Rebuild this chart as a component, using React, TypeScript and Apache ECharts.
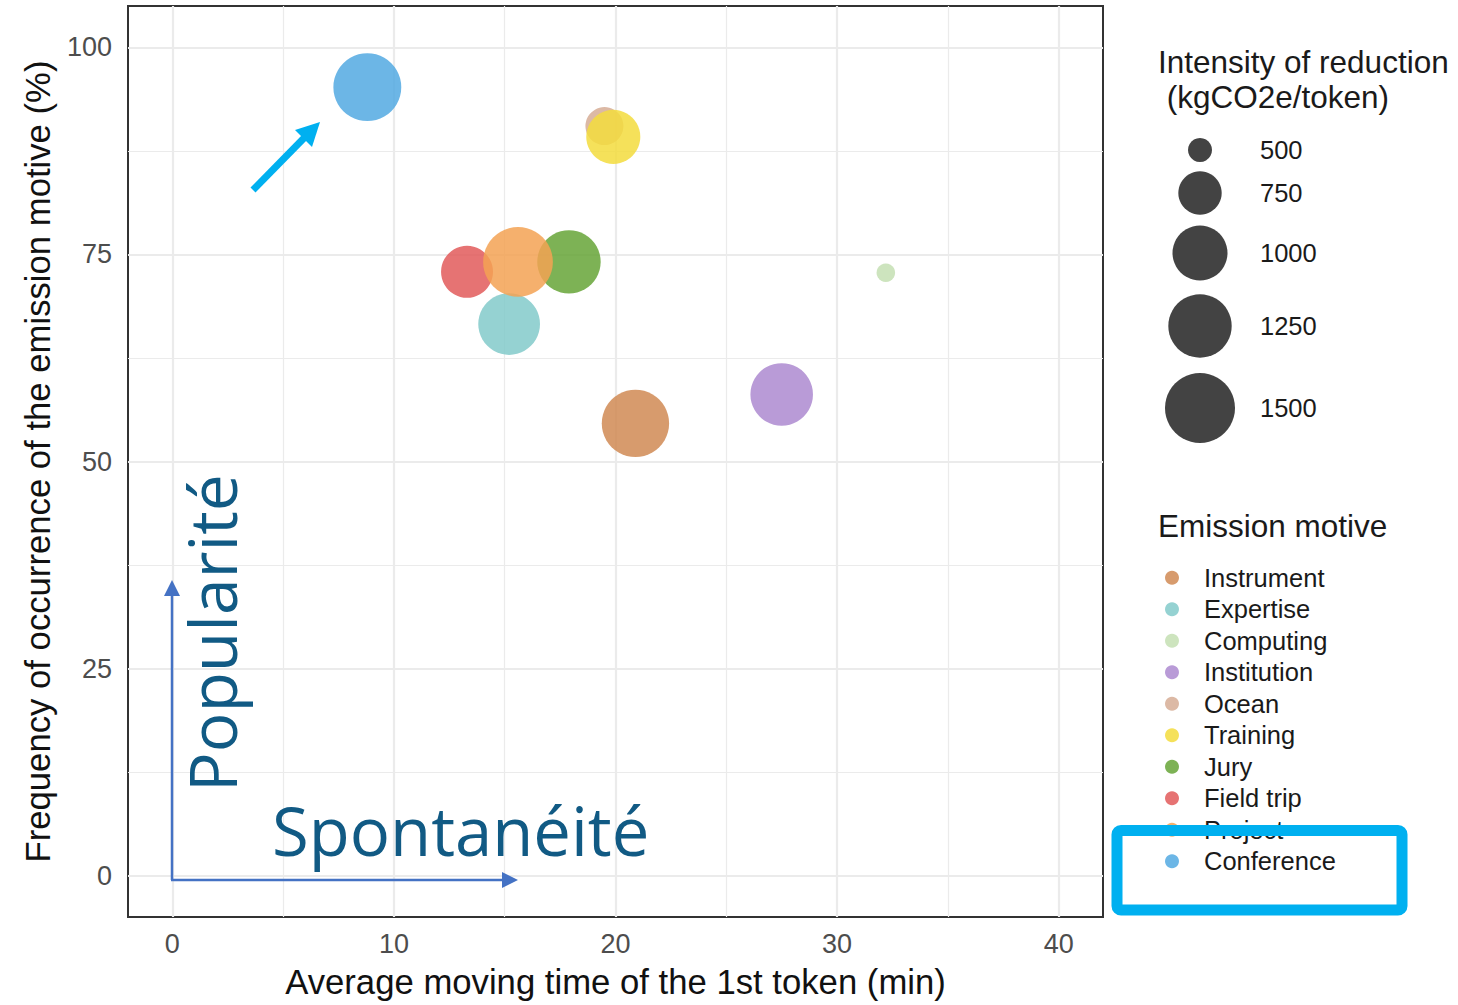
import React, { useEffect, useRef } from "react";
import * as echarts from "echarts";

// ---------- data ----------
const categories = [
  "Instrument",
  "Expertise",
  "Computing",
  "Institution",
  "Ocean",
  "Training",
  "Jury",
  "Field trip",
  "Project",
  "Conference",
];
const movingTime = [20.9, 15.2, 32.2, 27.5, 19.5, 19.9, 17.9, 13.3, 15.6, 8.8];
const frequency = [54.6, 66.6, 72.8, 58.1, 90.5, 89.2, 74.1, 72.9, 74.1, 95.2];
const intensity = [1400, 1200, 430, 1225, 680, 980, 1250, 935, 1490, 1420];

const xTicks = [0, 10, 20, 30, 40];
const xMinor = [5, 15, 25, 35];
const yTicks = [0, 25, 50, 75, 100];
const yMinor = [12.5, 37.5, 62.5, 87.5];
const sizeBreaks = [500, 750, 1000, 1250, 1500];

// ---------- styles ----------
const colors = [
  "#D08954",
  "#83CACA",
  "#C4DFB3",
  "#AD89D0",
  "#D6AD95",
  "#F3DC3D",
  "#66A437",
  "#E25A5A",
  "#F3A254",
  "#52A9E2",
];
const sizeRadii = [12, 21.7, 27.5, 31.7, 35];
const sizeKeyY = [150, 193, 253, 326, 408];
const FONT = "Liberation Sans";
const ANNOT_FONT = "Open Sans";

function radius(v: number): number {
  const b = sizeBreaks;
  const r = sizeRadii;
  if (v <= b[0]) {
    const slope = (r[1] - r[0]) / (b[1] - b[0]);
    return Math.max(3, r[0] - (b[0] - v) * slope);
  }
  for (let i = 0; i < b.length - 1; i++) {
    if (v <= b[i + 1]) {
      return r[i] + ((v - b[i]) / (b[i + 1] - b[i])) * (r[i + 1] - r[i]);
    }
  }
  const n = b.length - 1;
  const slope = (r[n] - r[n - 1]) / (b[n] - b[n - 1]);
  return r[n] + (v - b[n]) * slope;
}

function buildOption() {
  const gridLines = [
    ...xTicks.map((v) => ({ xAxis: v, lineStyle: { color: "#EBEBEB", width: 2.2, type: "solid" } })),
    ...xMinor.map((v) => ({ xAxis: v, lineStyle: { color: "#EBEBEB", width: 1.2, type: "solid" } })),
    ...yTicks.map((v) => ({ yAxis: v, lineStyle: { color: "#EBEBEB", width: 2.2, type: "solid" } })),
    ...yMinor.map((v) => ({ yAxis: v, lineStyle: { color: "#EBEBEB", width: 1.2, type: "solid" } })),
  ];

  const pointSeries = categories.map((c, i) => ({
    type: "scatter",
    name: c,
    data: [[movingTime[i], frequency[i], intensity[i]]],
    symbol: "circle",
    symbolSize: (val: number[]) => 2 * radius(val[2]),
    itemStyle: { color: colors[i], opacity: 0.85 },
    emphasis: { disabled: true },
    z: 3,
  }));

  const graphics: any[] = [];

  // size legend
  graphics.push({
    type: "text",
    x: 1158,
    y: 62,
    style: { text: "Intensity of reduction", fontSize: 31.5, fontFamily: FONT, fill: "#1a1a1a", align: "left", verticalAlign: "middle" },
  });
  graphics.push({
    type: "text",
    x: 1158,
    y: 97,
    style: { text: " (kgCO2e/token)", fontSize: 31.5, fontFamily: FONT, fill: "#1a1a1a", align: "left", verticalAlign: "middle" },
  });
  sizeBreaks.forEach((b, i) => {
    graphics.push({
      type: "circle",
      shape: { cx: 1200, cy: sizeKeyY[i], r: radius(b) },
      style: { fill: "#333333", opacity: 0.92 },
    });
    graphics.push({
      type: "text",
      x: 1260,
      y: sizeKeyY[i],
      style: { text: String(b), fontSize: 25.5, fontFamily: FONT, fill: "#1a1a1a", align: "left", verticalAlign: "middle" },
    });
  });
  graphics.push({
    type: "text",
    x: 1158,
    y: 526,
    style: { text: "Emission motive", fontSize: 31.5, fontFamily: FONT, fill: "#1a1a1a", align: "left", verticalAlign: "middle" },
  });

  // annotations
  graphics.push({
    type: "line",
    shape: { x1: 172, y1: 880, x2: 172, y2: 594 },
    style: { stroke: "#4472C4", lineWidth: 2.5 },
    z: 50,
  });
  graphics.push({
    type: "polygon",
    shape: { points: [[172, 580], [164, 596], [180, 596]] },
    style: { fill: "#4472C4" },
    z: 50,
  });
  graphics.push({
    type: "line",
    shape: { x1: 171, y1: 880, x2: 504, y2: 880 },
    style: { stroke: "#4472C4", lineWidth: 2.5 },
    z: 50,
  });
  graphics.push({
    type: "polygon",
    shape: { points: [[518, 880], [502, 872], [502, 888]] },
    style: { fill: "#4472C4" },
    z: 50,
  });
  graphics.push({
    type: "text",
    x: 211,
    y: 792,
    rotation: Math.PI / 2,
    style: { text: "Popularité", fontSize: 66, fontFamily: ANNOT_FONT, fill: "#115A84", align: "left", verticalAlign: "middle" },
    z: 50,
  });
  graphics.push({
    type: "text",
    x: 272,
    y: 830,
    style: { text: "Spontanéité", fontSize: 67, fontFamily: ANNOT_FONT, fill: "#115A84", align: "left", verticalAlign: "middle" },
    z: 50,
  });
  graphics.push({
    type: "line",
    shape: { x1: 253, y1: 190, x2: 306, y2: 136 },
    style: { stroke: "#00B0F0", lineWidth: 7 },
    z: 50,
  });
  graphics.push({
    type: "polygon",
    shape: { points: [[320, 122], [295, 130], [312, 147]] },
    style: { fill: "#00B0F0" },
    z: 50,
  });
  graphics.push({
    type: "rect",
    shape: { x: 1117, y: 830.5, width: 285, height: 79.5, r: 4 },
    style: { fill: "none", stroke: "#00B0F0", lineWidth: 11 },
    z: 100,
  });

  return {
    animation: false,
    backgroundColor: "#ffffff",
    grid: {
      left: 128,
      top: 6,
      width: 975,
      height: 911,
      show: true,
      borderColor: "#333333",
      borderWidth: 2,
      backgroundColor: "transparent",
    },
    xAxis: {
      type: "value",
      min: -2,
      max: 42,
      name: "Average moving time of the 1st token (min)",
      nameLocation: "middle",
      nameGap: 47,
      nameTextStyle: { fontSize: 34.7, color: "#111", fontFamily: FONT },
      axisLine: { show: false },
      axisTick: { show: true, customValues: xTicks, length: 7, lineStyle: { color: "#333", width: 2 } },
      axisLabel: { customValues: xTicks, margin: 13, fontSize: 27, color: "#4D4D4D", fontFamily: FONT },
      splitLine: { show: false },
    },
    yAxis: {
      type: "value",
      min: -5,
      max: 105,
      name: "Frequency of occurrence of the emission motive (%)",
      nameLocation: "middle",
      nameGap: 73,
      nameTextStyle: { fontSize: 34.7, color: "#111", fontFamily: FONT },
      axisLine: { show: false },
      axisTick: { show: true, customValues: yTicks, length: 7, lineStyle: { color: "#333", width: 2 } },
      axisLabel: { customValues: yTicks, margin: 16, fontSize: 27, color: "#4D4D4D", fontFamily: FONT },
      splitLine: { show: false },
    },
    legend: {
      data: categories,
      orient: "vertical",
      left: 1165,
      top: 562,
      padding: 0,
      itemWidth: 54,
      itemHeight: 14,
      itemGap: 0,
      icon: "circle",
      selectedMode: false,
      textStyle: { fontSize: 25.5, color: "#1a1a1a", fontFamily: FONT, lineHeight: 31.5 },
    },
    series: [
      {
        type: "scatter",
        name: "__grid",
        data: [],
        silent: true,
        markLine: {
          silent: true,
          z: 1,
          symbol: ["none", "none"],
          label: { show: false },
          emphasis: { disabled: true },
          data: gridLines,
        },
      },
      ...pointSeries,
    ],
    graphic: graphics,
  };
}

export default function App() {
  const ref = useRef<HTMLDivElement>(null);
  useEffect(() => {
    if (!ref.current) return;
    const chart = echarts.init(ref.current, null, { renderer: "svg" });
    chart.setOption(buildOption() as any);
    return () => chart.dispose();
  }, []);
  return (
    <div
      ref={ref}
      style={{ position: "fixed", left: 0, top: 0, width: 1458, height: 1005, background: "#fff" }}
    />
  );
}
